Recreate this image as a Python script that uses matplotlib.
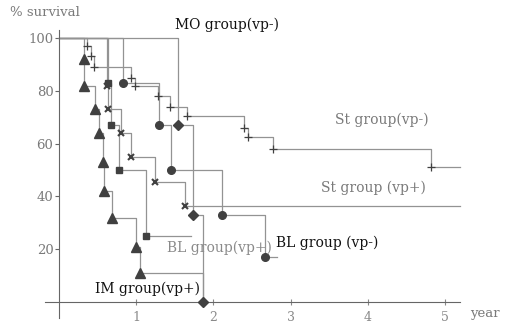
import matplotlib
import matplotlib.pyplot as plt

matplotlib.use("agg")

# Kaplan-Meier style step curves
# (event time in years, survival % after the event)
im_times = [0.32, 0.33, 0.47, 0.52, 0.57, 0.58, 0.69, 1.00, 1.05, 1.86]
im_surv = [92, 82, 73, 64, 53, 42, 32, 21, 11, 0]

blp_times = [0.63, 0.67, 0.78, 1.13]
blp_surv = [83, 67, 50, 25]
blp_end = 1.71

blm_times = [0.83, 1.30, 1.45, 2.11, 2.67]
blm_surv = [83, 67, 50, 33, 17]
blm_end = 2.82

mo_times = [1.54, 1.74, 1.86]
mo_surv = [67, 33, 0]

stp_times = [0.62, 0.635, 0.80, 0.93, 1.24, 1.63]
stp_surv = [82, 73, 64, 55, 45.5, 36.5]
stp_end = 5.19

stm_times = [0.36, 0.42, 0.46, 0.93, 0.98, 1.28, 1.44, 1.66, 2.40, 2.45, 2.77, 4.82]
stm_surv = [97, 93, 89, 85, 82, 78, 74, 70.5, 66, 62.5, 58, 51]
stm_end = 5.19

y_ticks = [20, 40, 60, 80, 100]
x_ticks = [1, 2, 3, 4, 5]

LINE = "#939393"
MARK = "#404040"
GREY_TXT = "#7a7a7a"
FONT = "DejaVu Serif"

fig = plt.figure(figsize=(5.06, 3.23), dpi=100)
ax = fig.add_axes([0, 0, 1, 1])
ax.set_xlim(-0.764, 5.79)
ax.set_ylim(-7.95, 114.4)


def km(times, surv, end=None, marker="o", ms=6, mew=1.0, skip_zero=False):
    t = [0] + list(times)
    s = [100] + list(surv)
    if end is not None:
        t.append(end)
        s.append(surv[-1])
    ax.step(t, s, where="post", color=LINE, lw=0.9, zorder=2)
    pts = [(a, b) for a, b in zip(times, surv) if not (skip_zero and b == 0)]
    ax.plot([p[0] for p in pts], [p[1] for p in pts], linestyle="none",
            marker=marker, ms=ms, mew=mew, color=MARK, zorder=3)


km(stm_times, stm_surv, stm_end, marker="+", ms=5.5, mew=0.9)
km(stp_times, stp_surv, stp_end, marker="x", ms=5, mew=1.5)
km(mo_times, mo_surv, marker="D", ms=5)
km(blm_times, blm_surv, blm_end, marker="o", ms=5.5)
km(blp_times, blp_surv, blp_end, marker="s", ms=5)
km(im_times, im_surv, marker="^", ms=6.5, skip_zero=True)

# axes drawn through the origin like the printed figure
for side in ["top", "right"]:
    ax.spines[side].set_visible(False)
ax.spines["left"].set_position(("data", 0))
ax.spines["bottom"].set_position(("data", 0))
ax.spines["left"].set_bounds(-6, 103)
ax.spines["bottom"].set_bounds(-0.18, 5.2)
for side in ["left", "bottom"]:
    ax.spines[side].set_color("#666666")
    ax.spines[side].set_linewidth(0.8)

ax.set_yticks(y_ticks)
ax.set_yticklabels([str(v) for v in y_ticks], family=FONT, fontsize=9.5, color=GREY_TXT)
ax.set_xticks(x_ticks)
ax.set_xticklabels([str(v) for v in x_ticks], family=FONT, fontsize=9, color="#8a8a8a")
ax.tick_params(axis="y", direction="out", length=3, width=0.8, color="#666666", pad=1)
ax.tick_params(axis="x", direction="inout", length=5, width=0.8, color="#888888", pad=4)

ax.text(-0.635, 109.5, "% survival", family=FONT, fontsize=9.5, color=GREY_TXT, va="center")
ax.text(5.32, -4.5, "year", family=FONT, fontsize=9.5, color=GREY_TXT, va="center")

ax.text(1.50, 104.9, "MO group(vp-)", family=FONT, fontsize=10, color="#111111", va="center")
ax.text(3.575, 68.9, "St group(vp-)", family=FONT, fontsize=10, color=GREY_TXT, va="center")
ax.text(3.39, 43.2, "St group (vp+)", family=FONT, fontsize=10, color=GREY_TXT, va="center")
ax.text(1.40, 20.5, "BL group(vp+)", family=FONT, fontsize=10, color="#8a8a8a", va="center")
ax.text(2.81, 22.3, "BL group (vp-)", family=FONT, fontsize=10, color="#111111", va="center")
ax.text(0.466, 4.9, "IM group(vp+)", family=FONT, fontsize=10, color="#111111", va="center")

fig.savefig("out.png", dpi=100)
plt.close(fig)
